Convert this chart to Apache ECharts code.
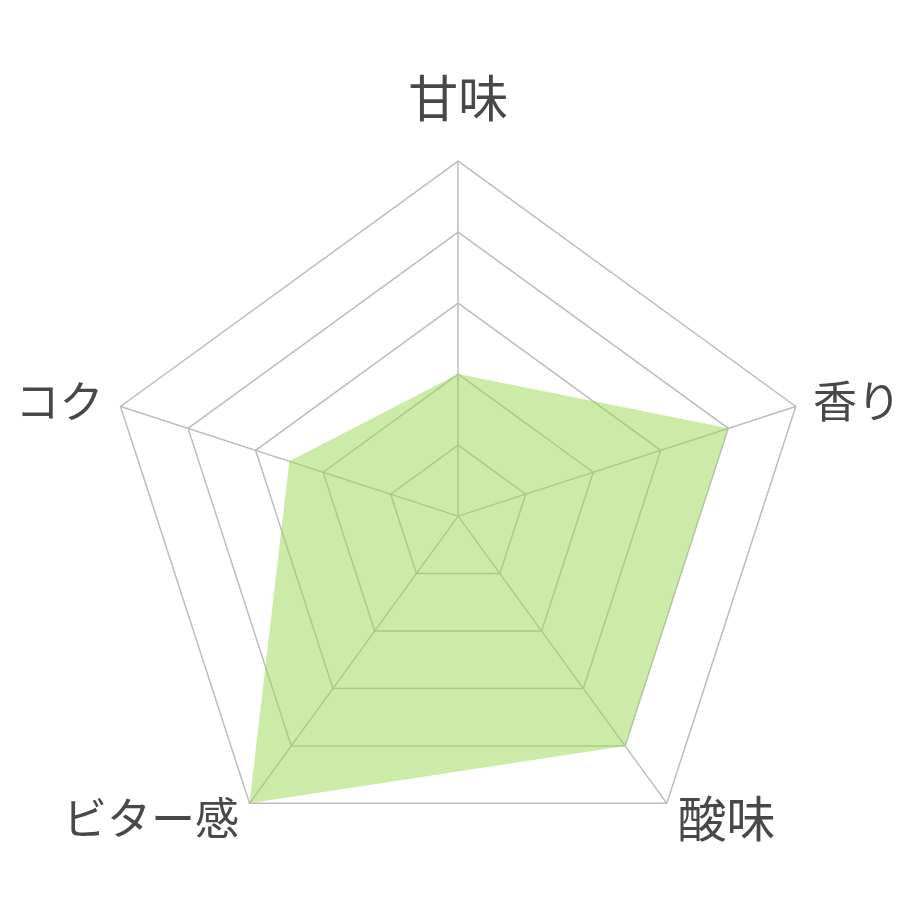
<!DOCTYPE html>
<html>
<head>
<meta charset="utf-8">
<script src="https://cdn.jsdelivr.net/npm/echarts@6/dist/echarts.min.js"></script>
<style>
  html, body { margin: 0; padding: 0; background: #fff; }
  #chart { width: 920px; height: 920px; }
</style>
</head>
<body>
<div id="chart"></div>
<script>
// Indicators listed in ECharts drawing order (counter-clockwise from top)
const indicatorNames = ['甘味', 'コク', 'ビター感', '酸味', '香り'];
const indicatorMax = [5, 5, 5, 5, 5];
const tasteValues = [2, 2.5, 5, 4, 4];

const labelFont = '"Noto Sans CJK JP", sans-serif';
const chart = echarts.init(document.getElementById('chart'), null, { renderer: 'canvas' });
chart.setOption({
  backgroundColor: '#ffffff',
  animation: false,
  radar: {
    center: ['49.8%', '56.1%'],
    radius: 355,
    startAngle: 90,
    splitNumber: 5,
    shape: 'polygon',
    indicator: indicatorNames.map((n, i) => ({ name: n, max: indicatorMax[i], min: 0 })),
    axisName: {
      color: '#484848',
      fontSize: 44,
      fontFamily: labelFont,
      formatter: function (name) {
        if (name === indicatorNames[0]) return '{top|' + name + '}';
        if (name === indicatorNames[3]) return '{wide|' + name + '}';
        return '{side|' + name + '}';
      },
      rich: {
        top: { fontSize: 50, fontFamily: labelFont, color: '#484848', padding: [0, 0, 20, 0] },
        wide: { fontSize: 49, fontFamily: labelFont, color: '#484848' },
        side: { fontSize: 44, fontFamily: labelFont, color: '#484848' }
      }
    },
    nameGap: 18,
    axisLine: { lineStyle: { color: '#bdbdbd', width: 1.5 } },
    splitLine: { lineStyle: { color: '#bdbdbd', width: 1.5 } },
    splitArea: { show: false },
    axisTick: { show: false },
    axisLabel: { show: false }
  },
  series: [{
    type: 'radar',
    symbol: 'none',
    lineStyle: { width: 0 },
    areaStyle: { color: 'rgb(155,215,81)', opacity: 0.5 },
    data: [{ value: tasteValues, name: 'taste' }]
  }]
});
</script>
</body>
</html>
